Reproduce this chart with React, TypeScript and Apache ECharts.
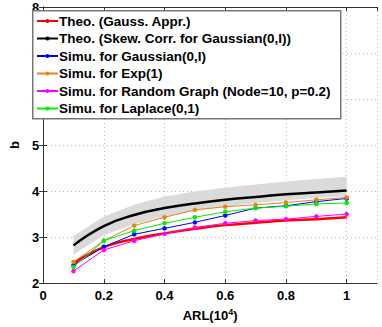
import React, { useEffect, useRef } from "react";
import * as echarts from "echarts";

const arl = [0.1, 0.2, 0.3, 0.4, 0.5, 0.6, 0.7, 0.8, 0.9, 1.0];
const theoGauss = [2.43, 2.78, 2.96, 3.08, 3.18, 3.26, 3.31, 3.36, 3.39, 3.43];
const theoSkew = [2.82, 3.24, 3.48, 3.63, 3.73, 3.81, 3.87, 3.93, 3.97, 4.01];
const bandLower = [2.62, 3.04, 3.28, 3.45, 3.57, 3.66, 3.74, 3.8, 3.85, 3.89];
const bandUpper = [3.02, 3.45, 3.7, 3.88, 3.99, 4.07, 4.14, 4.21, 4.26, 4.31];
const simuGaussian = [2.39, 2.79, 3.06, 3.19, 3.32, 3.47, 3.63, 3.68, 3.77, 3.84];
const simuExp = [2.46, 2.92, 3.25, 3.43, 3.59, 3.66, 3.7, 3.75, 3.81, 3.86];
const simuRandom = [2.26, 2.72, 2.92, 3.07, 3.21, 3.3, 3.36, 3.39, 3.45, 3.5];
const simuLaplace = [2.35, 2.92, 3.14, 3.3, 3.43, 3.55, 3.63, 3.67, 3.72, 3.74];

const names = [
  "Theo. (Gauss. Appr.)",
  "Theo. (Skew. Corr. for Gaussian(0,I))",
  "Simu. for Gaussian(0,I)",
  "Simu. for Exp(1)",
  "Simu. for Random Graph (Node=10, p=0.2)",
  "Simu. for Laplace(0,1)",
];

const FONT = "'Liberation Sans', Arial, Helvetica, sans-serif";

const pts = (ys: number[]) => arl.map((x, i) => [x, ys[i]]);

export default function App() {
  const ref = useRef<HTMLDivElement>(null);
  useEffect(() => {
    if (!ref.current) return;
    const chart = echarts.init(ref.current, undefined, { renderer: "svg" });
    const simu = (name: string, data: number[], color: string) => ({
      name,
      type: "line",
      data: pts(data),
      symbol: "circle",
      symbolSize: 4.5,
      showSymbol: true,
      lineStyle: { color, width: 1 },
      itemStyle: { color },
      z: 5,
    });
    const axisLine = { show: true, lineStyle: { color: "#333", width: 1 } };
    const bandData = arl.map((x, i) => [x, bandLower[i], bandUpper[i]]);
    chart.setOption({
      animation: false,
      backgroundColor: "#fff",
      textStyle: { fontFamily: FONT },
      grid: { left: 29, right: 5, top: 7, bottom: 38, show: false },
      graphic: [
        {
          type: "rect",
          left: 32,
          top: 10,
          shape: { width: 308, height: 108 },
          style: { fill: "#fff", stroke: "#777", lineWidth: 1.5 },
          z: 100,
        },
      ],
      legend: {
        data: names,
        orient: "vertical",
        left: 32,
        top: 11,
        padding: [3, 4, 3, 4],
        itemWidth: 21,
        itemHeight: 5,
        itemGap: 3.5,
        z: 101,
        textStyle: {
          fontFamily: FONT,
          fontSize: 13.5,
          fontWeight: "bold",
          color: "#000",
          lineHeight: 14,
          padding: [0, 0, 0, -4],
        },
      },
      xAxis: [
        {
          type: "value",
          min: 0,
          max: 1.1,
          interval: 0.2,
          name: "ARL(10{sup|4})",
          nameLocation: "middle",
          nameGap: 22,
          nameTextStyle: {
            fontFamily: FONT,
            fontSize: 13,
            fontWeight: "bold",
            color: "#000",
            rich: {
              sup: {
                fontFamily: FONT,
                fontSize: 9,
                fontWeight: "bold",
                color: "#000",
                verticalAlign: "top",
                padding: [0, 0, 8, 0],
              },
            },
          },
          axisLine,
          axisTick: { show: true, inside: true, length: 4, lineStyle: { color: "#333" } },
          axisLabel: {
            fontFamily: FONT,
            fontSize: 13,
            fontWeight: "bold",
            color: "#000",
            margin: 6,
            showMaxLabel: false,
            formatter: (v: number) => (Math.abs(v - 1.1) < 1e-6 ? "" : String(Math.round(v * 10) / 10)),
          },
          splitLine: { show: true, lineStyle: { color: "#bbb", type: [1, 3], width: 1 } },
        },
        {
          type: "value",
          position: "top",
          min: 0,
          max: 1.1,
          interval: 0.2,
          axisLine,
          axisTick: { show: true, inside: true, length: 4, lineStyle: { color: "#333" } },
          axisLabel: { show: false },
          splitLine: { show: false },
        },
      ],
      yAxis: [
        {
          type: "value",
          min: 2,
          max: 8,
          interval: 1,
          name: "b",
          nameLocation: "middle",
          nameGap: 21,
          nameTextStyle: { fontFamily: FONT, fontSize: 13, fontWeight: "bold", color: "#000" },
          axisLine,
          axisTick: { show: true, inside: true, length: 4, lineStyle: { color: "#333" } },
          axisLabel: { fontFamily: FONT, fontSize: 13, fontWeight: "bold", color: "#000", margin: 4 },
          splitLine: { show: true, lineStyle: { color: "#bbb", type: [1, 3], width: 1 } },
        },
        {
          type: "value",
          position: "right",
          min: 2,
          max: 8,
          interval: 1,
          axisLine,
          axisTick: { show: true, inside: true, length: 4, lineStyle: { color: "#333" } },
          axisLabel: { show: false },
          splitLine: { show: false },
        },
      ],
      series: [
        {
          name: "band",
          type: "custom",
          data: bandData,
          silent: true,
          z: 1,
          renderItem: (params: any, api: any) => {
            if (params.dataIndex !== 0) return null;
            const upper = bandData.map((d) => api.coord([d[0], d[2]]));
            const lower = bandData.map((d) => api.coord([d[0], d[1]])).reverse();
            return {
              type: "polygon",
              shape: { points: upper.concat(lower) },
              style: { fill: "#dadada", stroke: "none" },
            };
          },
        },
        {
          name: names[0],
          type: "line",
          data: pts(theoGauss),
          smooth: true,
          symbol: "none",
          lineStyle: { color: "#ff0000", width: 2.5 },
          itemStyle: { color: "#ff0000" },
          z: 3,
        },
        {
          name: names[1],
          type: "line",
          data: pts(theoSkew),
          smooth: true,
          symbol: "none",
          lineStyle: { color: "#000", width: 2.5 },
          itemStyle: { color: "#000" },
          z: 3,
        },
        simu(names[2], simuGaussian, "#0000ff"),
        simu(names[3], simuExp, "#e0861a"),
        simu(names[4], simuRandom, "#ff00ff"),
        simu(names[5], simuLaplace, "#00ee00"),
      ],
    });
    return () => chart.dispose();
  }, []);
  return <div ref={ref} style={{ width: 382, height: 327, position: "absolute", left: 0, top: 0 }} />;
}
